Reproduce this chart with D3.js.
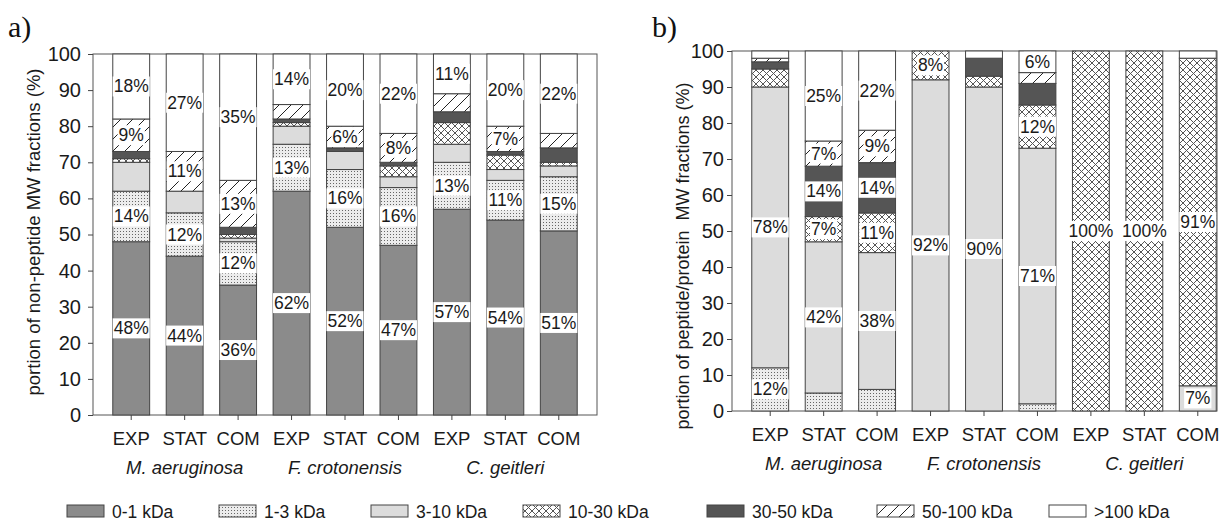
<!DOCTYPE html>
<html>
<head>
<meta charset="utf-8">
<script src="https://cdn.jsdelivr.net/npm/d3@7"></script>
<style>
  body { margin: 0; background: #fff; }
  svg { display: block; font-family: "Liberation Sans", Arial, sans-serif; }
</style>
</head>
<body>
<div id="chart"></div>
<script>
// categories and labels
var categories = ["0-1 kDa", "1-3 kDa", "3-10 kDa", "10-30 kDa", "30-50 kDa", "50-100 kDa", ">100 kDa"];
var phases = ["EXP", "STAT", "COM"];
var species = ["M. aeruginosa", "F. crotonensis", "C. geitleri"];
var yTicks = [0, 10, 20, 30, 40, 50, 60, 70, 80, 90, 100];

// a) non-peptide fractions, one value per bar (Ma EXP/STAT/COM, Fc ..., Cg ...)
var nonPep01 = [48, 44, 36, 62, 52, 47, 57, 54, 51];
var nonPep13 = [14, 12, 12, 13, 16, 16, 13, 11, 15];
var nonPep310 = [8, 6, 1, 5, 5, 3, 5, 3, 3];
var nonPep1030 = [1, 0, 1, 1, 0, 3, 6, 4, 1];
var nonPep3050 = [2, 0, 2, 1, 1, 1, 3, 1, 4];
var nonPep50100 = [9, 11, 13, 4, 6, 8, 5, 7, 4];
var nonPep100 = [18, 27, 35, 14, 20, 22, 11, 20, 22];

// b) peptide/protein fractions
var pep01 = [0, 0, 0, 0, 0, 0, 0, 0, 0];
var pep13 = [12, 5, 6, 0, 0, 2, 0, 0, 0];
var pep310 = [78, 42, 38, 92, 90, 71, 0, 0, 7];
var pep1030 = [5, 7, 11, 8, 3, 12, 100, 100, 91];
var pep3050 = [2, 14, 14, 0, 5, 6, 0, 0, 0];
var pep50100 = [1, 7, 9, 0, 0, 3, 0, 0, 0];
var pep100 = [2, 25, 22, 0, 2, 6, 0, 0, 2];

var svgWidth = 1223;
var svgHeight = 521;

var svg = d3.select("#chart")
  .append("svg")
  .attr("width", svgWidth)
  .attr("height", svgHeight);

// fill patterns
var defs = svg.append("defs");

var dots = defs.append("pattern")
  .attr("id", "dots")
  .attr("patternUnits", "userSpaceOnUse")
  .attr("width", 3).attr("height", 3);
dots.append("rect").attr("width", 3).attr("height", 3).attr("fill", "#ececec");
dots.append("rect").attr("x", 0).attr("y", 0).attr("width", 1).attr("height", 1).attr("fill", "#666");

var cross = defs.append("pattern")
  .attr("id", "cross")
  .attr("patternUnits", "userSpaceOnUse")
  .attr("width", 7).attr("height", 7);
cross.append("rect").attr("width", 7).attr("height", 7).attr("fill", "#fff");
cross.append("path")
  .attr("d", "M0,0L7,7M0,7L7,0")
  .attr("stroke", "#555")
  .attr("stroke-width", 1)
  .attr("fill", "none");

var hatch = defs.append("pattern")
  .attr("id", "hatch")
  .attr("patternUnits", "userSpaceOnUse")
  .attr("width", 12).attr("height", 12);
hatch.append("rect").attr("width", 12).attr("height", 12).attr("fill", "#fff");
hatch.append("path")
  .attr("d", "M-3,3L3,-3M0,12L12,0M9,15L15,9")
  .attr("stroke", "#222")
  .attr("stroke-width", 1)
  .attr("fill", "none");

var fills = ["#8b8b8b", "url(#dots)", "#dcdcdc", "url(#cross)", "#555555", "url(#hatch)", "#ffffff"];

function drawPanel(opts) {
  var series = opts.series;
  var rows = d3.range(9).map(function(i) {
    var row = {};
    categories.forEach(function(c, k) { row[c] = series[k][i]; });
    return row;
  });
  var stacked = d3.stack().keys(categories)(rows);

  var x = d3.scaleBand()
    .domain(d3.range(9))
    .range([opts.left, opts.left + 504])
    .paddingInner(0.31)
    .paddingOuter(0.37);
  var y = d3.scaleLinear()
    .domain([0, 100])
    .range([opts.bottom, opts.top]);

  var g = svg.append("g");

  // frame
  g.append("rect")
    .attr("x", opts.left)
    .attr("y", opts.top)
    .attr("width", opts.right - opts.left)
    .attr("height", opts.bottom - opts.top)
    .attr("fill", "none")
    .attr("stroke", "#555")
    .attr("stroke-width", 1);

  // bars
  stacked.forEach(function(layer, k) {
    g.append("g")
      .selectAll("rect")
      .data(layer.filter(function(d) { return d[1] - d[0] > 0; }))
      .enter()
      .append("rect")
      .attr("x", function(d) { return x(layer.indexOf(d)); })
      .attr("y", function(d) { return y(d[1]); })
      .attr("width", x.bandwidth())
      .attr("height", function(d) { return y(d[0]) - y(d[1]); })
      .attr("fill", fills[k])
      .attr("stroke", "#444")
      .attr("stroke-width", 1);
  });

  // value labels with white boxes
  var labels = g.append("g");
  stacked.forEach(function(layer, k) {
    layer.forEach(function(d, i) {
      var v = d[1] - d[0];
      if (v < opts.minLabel[k]) return;
      var t = labels.append("text")
        .attr("x", x(i) + x.bandwidth() / 2)
        .attr("y", y((d[0] + d[1]) / 2))
        .attr("text-anchor", "middle")
        .attr("dominant-baseline", "central")
        .style("font-size", "17.5px")
        .style("fill", "#1a1a1a")
        .text(v + "%");
      var bb = t.node().getBBox();
      labels.insert("rect", function() { return t.node(); })
        .attr("x", bb.x - 1)
        .attr("y", bb.y)
        .attr("width", bb.width + 2)
        .attr("height", bb.height)
        .attr("fill", "#fff");
    });
  });

  // y axis
  var leftAxis = d3.axisLeft(y)
    .tickValues(yTicks)
    .tickSize(5)
    .tickSizeOuter(0)
    .tickPadding(opts.tickPad);
  var ya = g.append("g")
    .attr("transform", "translate(" + opts.left + ",0)")
    .call(leftAxis);
  ya.select(".domain").remove();
  ya.selectAll("line").attr("stroke", "#444");
  ya.selectAll("text")
    .style("font-size", "20px")
    .style("font-family", "\"Liberation Sans\", Arial, sans-serif")
    .style("fill", "#1a1a1a");

  // x axis ticks
  var bottomAxis = d3.axisBottom(x)
    .tickSize(5)
    .tickSizeOuter(0)
    .tickFormat(function(i) { return phases[i % 3]; })
    .tickPadding(12);
  var xa = g.append("g")
    .attr("transform", "translate(0," + opts.bottom + ")")
    .call(bottomAxis);
  xa.select(".domain").remove();
  xa.selectAll("line").attr("stroke", "#444");
  xa.selectAll("text")
    .style("font-size", "18.5px")
    .style("font-family", "\"Liberation Sans\", Arial, sans-serif")
    .style("fill", "#1a1a1a");

  // species names under the STAT bars
  species.forEach(function(s, j) {
    g.append("text")
      .attr("x", x(j * 3 + 1) + x.bandwidth() / 2)
      .attr("y", opts.bottom + 59)
      .attr("text-anchor", "middle")
      .style("font-size", "18.5px")
      .style("font-style", "italic")
      .style("fill", "#1a1a1a")
      .text(s);
  });

  // y title
  g.append("text")
    .attr("transform", "translate(" + opts.titleX + "," + opts.titleY + ") rotate(-90)")
    .attr("text-anchor", "middle")
    .attr("dominant-baseline", "central")
    .style("font-size", opts.titleSize)
    .style("fill", "#1a1a1a")
    .style("white-space", "pre")
    .text(opts.title);

  // panel letter
  g.append("text")
    .attr("x", opts.letterX)
    .attr("y", 37)
    .style("font-family", "\"Liberation Serif\", \"Times New Roman\", serif")
    .style("font-size", "30px")
    .style("fill", "#111")
    .text(opts.letter);
}

drawPanel({
  series: [nonPep01, nonPep13, nonPep310, nonPep1030, nonPep3050, nonPep50100, nonPep100],
  left: 93, right: 597, top: 54, bottom: 415,
  minLabel: [6, 6, 1000, 1000, 1000, 6, 6],
  tickPad: 7,
  title: "portion of non-peptide MW fractions (%)",
  titleSize: "18.5px",
  titleX: 33, titleY: 232,
  letter: "a)", letterX: 8
});

drawPanel({
  series: [pep01, pep13, pep310, pep1030, pep3050, pep50100, pep100],
  left: 732, right: 1217, top: 51, bottom: 411,
  minLabel: [7, 7, 7, 7, 7, 7, 6],
  tickPad: 3,
  title: "portion of peptide/protein  MW fractions (%)",
  titleSize: "18px",
  titleX: 683, titleY: 256,
  letter: "b)", letterX: 652
});

// legend
var legendX = [67, 219, 371, 523, 707, 877, 1049];
var legend = svg.append("g");
categories.forEach(function(c, k) {
  legend.append("rect")
    .attr("x", legendX[k])
    .attr("y", 505)
    .attr("width", 37)
    .attr("height", 12)
    .attr("fill", fills[k])
    .attr("stroke", "#444")
    .attr("stroke-width", 1);
  legend.append("text")
    .attr("x", legendX[k] + 45)
    .attr("y", 518)
    .style("font-size", "17.5px")
    .style("fill", "#1a1a1a")
    .text(c);
});
</script>
</body>
</html>
